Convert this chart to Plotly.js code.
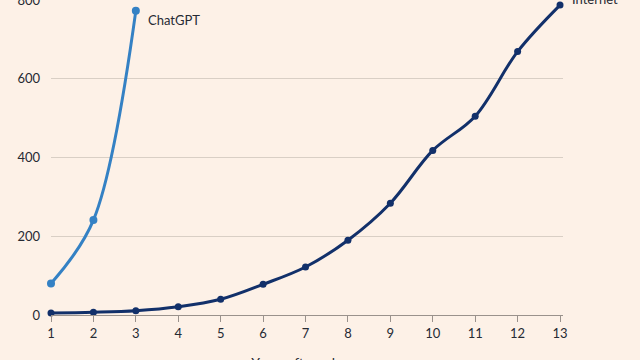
<!DOCTYPE html>
<html>
<head>
<meta charset="utf-8">
<script src="https://cdn.plot.ly/plotly-3.0.1.min.js"></script>
<style>
  html, body { margin:0; padding:0; background:#FDF1E7; overflow:hidden; width:640px; height:360px; }
  #chart { position:absolute; left:0; top:-30px; width:640px; height:420px; }
</style>
</head>
<body>
<div id="chart"></div>
<script>
const years = [1, 2, 3, 4, 5, 6, 7, 8, 9, 10, 11, 12, 13];
const chatgptYears = [1, 2, 3];
const chatgptValues = [80, 241, 773];
const internetValues = [5, 7, 11, 21, 40, 78, 122, 190, 284, 418, 505, 669, 787];
const yTicks = [0, 200, 400, 600, 800];
const seriesNames = ["ChatGPT", "Internet"];

const font = "Lato, 'Open Sans', sans-serif";
const textColor = "#262a33";

const traces = [
  {
    x: years, y: internetValues, type: "scatter", mode: "lines+markers",
    name: seriesNames[1],
    line: {color: "#12306A", width: 3, shape: "spline"},
    marker: {color: "#12306A", size: 7},
    cliponaxis: false, hoverinfo: "skip"
  },
  {
    x: chatgptYears, y: chatgptValues, type: "scatter", mode: "lines+markers",
    name: seriesNames[0],
    line: {color: "#3481C4", width: 3, shape: "spline"},
    marker: {color: "#3481C4", size: 8},
    cliponaxis: false, hoverinfo: "skip"
  }
];

const layout = {
  width: 640, height: 420,
  margin: {l: 51, r: 77, t: 30, b: 75},
  paper_bgcolor: "#FDF1E7", plot_bgcolor: "#FDF1E7",
  showlegend: false,
  font: {family: font, size: 13, color: textColor},
  xaxis: {
    range: [1, 13.07], tickvals: years, ticktext: years.map(String),
    showgrid: false, zeroline: false,
    showline: true, linecolor: "#9a928c", linewidth: 1,
    ticks: "outside", ticklen: 6, tickcolor: "#9a928c", tickwidth: 1,
    tickfont: {family: font, size: 13, color: textColor},
    title: {text: "Years after release", font: {family: font, size: 14, color: textColor}, standoff: 18},
    fixedrange: true
  },
  yaxis: {
    range: [0, 800], tickvals: yTicks, ticktext: yTicks.map(String),
    showgrid: true, gridcolor: "#D9CFC5", gridwidth: 1,
    zeroline: false, showline: false, ticks: "", ticklabelstandoff: 10,
    tickfont: {family: font, size: 13, color: textColor},
    fixedrange: true
  },
  annotations: [
    {x: chatgptYears[2], y: chatgptValues[2], text: seriesNames[0], showarrow: false,
     xanchor: "left", yanchor: "middle", xshift: 10, yshift: -9,
     font: {family: font, size: 13, color: textColor}},
    {x: years[12], y: internetValues[12], text: seriesNames[1], showarrow: false,
     xanchor: "left", yanchor: "middle", xshift: 10, yshift: 6,
     font: {family: font, size: 13, color: textColor}}
  ]
};

Plotly.newPlot("chart", traces, layout, {displayModeBar: false, staticPlot: true});
</script>
</body>
</html>
